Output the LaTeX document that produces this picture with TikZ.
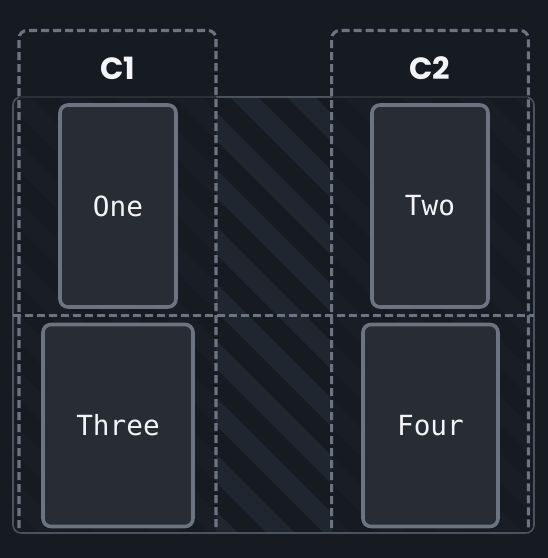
\documentclass[tikz,border=0pt]{standalone}
\usepackage{fontspec}
\newfontfamily\headfont{Poppins}
\newfontfamily\itemfont{DejaVu Sans Mono}
\definecolor{bg}{HTML}{161B22}
\definecolor{stripefaint}{HTML}{191E26}
\definecolor{stripestrong}{HTML}{20262F}
\definecolor{gridline}{HTML}{4B535D}
\definecolor{topdark}{HTML}{2A3038}
\definecolor{dashcol}{HTML}{6B7480}
\definecolor{itemfill}{HTML}{282C34}
\definecolor{itemline}{HTML}{6B7480}
\definecolor{txt}{HTML}{F2F4F7}
\tikzset{
  colline/.style={draw=dashcol, line width=2.3pt, dash pattern=on 6pt off 3pt, rounded corners=6pt},
  rowline/.style={draw=dashcol, line width=2.3pt, dash pattern=on 6pt off 3pt},
  itembox/.style={draw=itemline, fill=itemfill, line width=2.7pt, rounded corners=6pt,
    minimum height=151.5pt, text=txt, font=\itemfont\fontsize{20.8}{24}\selectfont, inner sep=0pt},
  header/.style={text=txt, font=\headfont\bfseries\fontsize{23}{27}\selectfont, inner sep=0pt},
  gridbox/.style={draw=gridline, line width=1.2pt, rounded corners=6pt}
}
\begin{document}
\begin{tikzpicture}[x=0.75pt,y=-0.75pt]
\useasboundingbox (0,0) rectangle (548,558);
\fill[bg] (0,0) rectangle (548,558);
% faint stripes over the whole grid
\begin{scope}
  \clip[rounded corners=6pt] (13,97) rectangle (534,533);
  \foreach \k in {-12,...,6}{
    \pgfmathsetmacro\ca{133+57*\k}
    \pgfmathsetmacro\cb{161+57*\k}
    \fill[stripefaint] (90+\ca,90) -- (90+\cb,90) -- (540+\cb,540) -- (540+\ca,540) -- cycle;
  }
\end{scope}
% strong stripes in the column gap
\begin{scope}
  \clip (216,97) rectangle (332,533);
  \foreach \k in {-12,...,6}{
    \pgfmathsetmacro\ca{133+57*\k}
    \pgfmathsetmacro\cb{161+57*\k}
    \fill[stripestrong] (90+\ca,90) -- (90+\cb,90) -- (540+\cb,540) -- (540+\ca,540) -- cycle;
  }
\end{scope}
% grid border
\draw[gridbox] (13,97) rectangle (534,533);
\draw[topdark, line width=1.2pt] (19,97) -- (216,97) (332,97) -- (528,97);
% row boundary
\coordinate (rowL) at (13,315.3);
\coordinate (rowR) at (534,315.3);
\draw[rowline] (rowL) -- (rowR);
% columns
\coordinate (c1bl) at (19,528);
\coordinate (c1tl) at (19,30.5);
\coordinate (c1tr) at (216,30.5);
\coordinate (c1br) at (216,528);
\coordinate (c2bl) at (331.7,528);
\coordinate (c2tl) at (331.7,30.5);
\coordinate (c2tr) at (528.3,30.5);
\coordinate (c2br) at (528.3,528);
\draw[colline] (c1bl) -- (c1tl) -- (c1tr) -- (c1br);
\draw[colline] (c2bl) -- (c2tl) -- (c2tr) -- (c2br);
% headers
\node[header] (h1) at (117.5,68) {C1};
\node[header] (h2) at (430,68) {C2};
% items
\node[itembox, minimum width=87pt] (one) at (118,206) {One};
\node[itembox, minimum width=87pt] (two) at (430,206) {Two};
\node[itembox, minimum width=112.5pt] (three) at (118,425.5) {Three};
\node[itembox, minimum width=101.25pt] (four) at (430.5,425.5) {Four};
\end{tikzpicture}
\end{document}
